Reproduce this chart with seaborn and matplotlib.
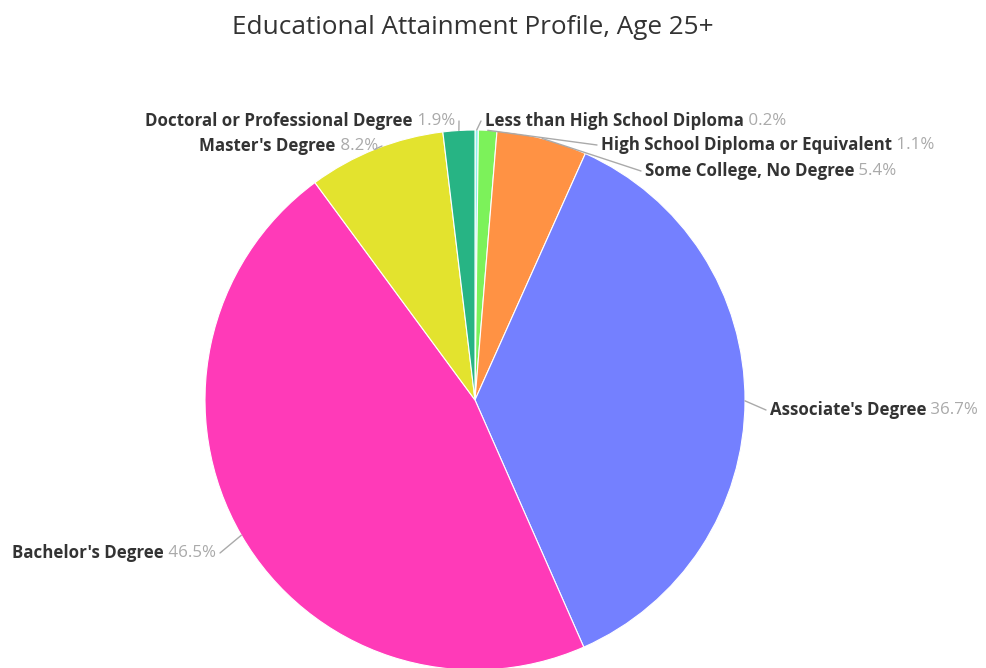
import numpy as np
import matplotlib
matplotlib.use("Agg")
import matplotlib.pyplot as plt
import seaborn as sns

# data
categories = [
    "Less than High School Diploma",
    "High School Diploma or Equivalent",
    "Some College, No Degree",
    "Associate's Degree",
    "Bachelor's Degree",
    "Master's Degree",
    "Doctoral or Professional Degree",
]
shares = [0.2, 1.1, 5.4, 36.7, 46.5, 8.2, 1.9]
pct_labels = ["0.2%", "1.1%", "5.4%", "36.7%", "46.5%", "8.2%", "1.9%"]
slice_colors = ["#8ff0e8", "#7cf25a", "#ff9244", "#7480ff", "#ff3ab8", "#e3e32e", "#27b484"]

sns.set_theme(style="white")
plt.rcParams['font.family'] = ['Open Sans', 'DejaVu Sans']

W, H = 987, 668
fig = plt.figure(figsize=(W / 100, H / 100), dpi=100)
cx, cy, r = 475, 400, 270
ax = fig.add_axes([(cx - r) / W, (H - cy - r) / H, 2 * r / W, 2 * r / H])

wedges, _ = ax.pie(shares, colors=sns.color_palette(slice_colors), startangle=90,
                   counterclock=False, radius=1,
                   wedgeprops=dict(edgecolor="white", linewidth=0.8))
for w in wedges:
    w.set_clip_on(False)
ax.set_aspect("auto")
ax.set_xlim(-1, 1)
ax.set_ylim(-1, 1)
ax.axis("off")


def px(x, y):
    return ((x - cx) / r, (cy - y) / r)


# label placement (pixels): (x, y, side)
label_pos = [
    (485, 121, "left"),
    (601, 145, "left"),
    (645, 171, "left"),
    (770, 410, "left"),
    (216, 553, "right"),
    (378, 146, "right"),
    (455, 121, "right"),
]

fs = 12.2
for w, name, pct, (lx, ly, side) in zip(wedges, categories, pct_labels, label_pos):
    mid = np.deg2rad((w.theta1 + w.theta2) / 2)
    ax0, ay0 = np.cos(mid), np.sin(mid)
    tx, ty = px(lx, ly)
    gap = 4 / r
    ex = tx - gap if side == "left" else tx + gap
    ax.plot([ax0, ex], [ay0, ty], color="#aaaaaa", lw=1, clip_on=False)
    if side == "left":
        t = ax.text(tx, ty, name, ha="left", va="center", fontsize=fs,
                    fontweight="bold", color="#333333", clip_on=False)
        ax.annotate(" " + pct, xy=(1, 0.5), xycoords=t, ha="left", va="center",
                    fontsize=fs, color="#aaaaaa", annotation_clip=False)
    else:
        t = ax.text(tx, ty, " " + pct, ha="right", va="center", fontsize=fs,
                    color="#aaaaaa", clip_on=False)
        ax.annotate(name, xy=(0, 0.5), xycoords=t, ha="right", va="center",
                    fontsize=fs, fontweight="bold", color="#333333", annotation_clip=False)

fig.text(473 / W, 1 - 28 / H, "Educational Attainment Profile, Age 25+",
         ha="center", va="center", fontsize=18.8, color="#333333")

fig.savefig("out.png", dpi=100)
